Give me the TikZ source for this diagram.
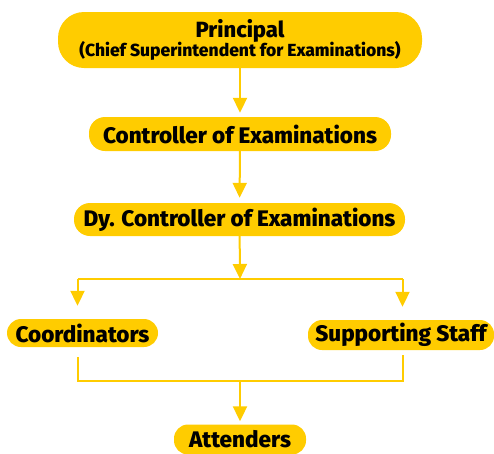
\documentclass[tikz,border=0pt]{standalone}
\usepackage{fontspec}
\setmainfont{Fira Sans}[BoldFont={Fira Sans ExtraBold}]
\usetikzlibrary{arrows.meta}
\definecolor{gold}{HTML}{FFCC00}

\begin{document}
\begin{tikzpicture}[x=1pt,y=-1pt]

        \useasboundingbox (0,0) rectangle (494,453);

        \begin{scope}[every node/.style={fill=gold,inner sep=0pt,rounded corners=14pt,
            font=\bfseries\fontsize{22.5}{24}\selectfont}]
          \node[minimum width=364pt,minimum height=56pt,rounded corners=26pt,align=center,
            font=\bfseries\fontsize{22}{22}\selectfont]
            (1) at (240,40) {Principal\\[-3pt]{\fontsize{17.5}{19}\selectfont (Chief Superintendent for Examinations)}};
          \node[minimum width=302pt,minimum height=34pt,rounded corners=16pt] (2) at (240,134) {Controller of Examinations};
          \node[minimum width=331pt,minimum height=33pt,rounded corners=16pt] (3) at (239.5,219.5) {Dy. Controller of Examinations};
          \node[minimum width=151pt,minimum height=28pt] (4) at (82.5,333) {Coordinators};
          \node[minimum width=186pt,minimum height=30pt] (5) at (401,335) {Supporting Staff};
          \node[minimum width=132pt,minimum height=30pt] (6) at (240,439.5) {Attenders};
        \end{scope}

        \coordinate (split) at (240,279);
        \coordinate (sl) at (77.5,279);
        \coordinate (sr) at (402.5,279);
        \coordinate (jl) at (77.5,381);
        \coordinate (jr) at (402.5,381);
        \coordinate (jm) at (240,381);

        \begin{scope}[link/.style={draw=gold,line width=2pt},
            flow/.style={link,-{Triangle[width=14pt,length=15pt]}}]
          \draw[flow,shorten >=4pt] (1) -- (2);
          \draw[flow,shorten >=5pt] (2) -- (3);
          \draw[flow] (3) -- (split);
          \draw[link] (sl) -- (sr);
          \draw[flow,shorten >=13pt] (sl) -- (sl |- 4.north);
          \draw[flow,shorten >=13pt] (sr) -- (sr |- 5.north);
          \draw[link,shorten <=10pt,shorten >=5pt] (jl |- 4.south) -- (jl) -- (jr) -- (jr |- 5.south);
          \draw[flow,shorten >=3pt] (jm) -- (6);
        \end{scope}

      \end{tikzpicture}
\end{document}
